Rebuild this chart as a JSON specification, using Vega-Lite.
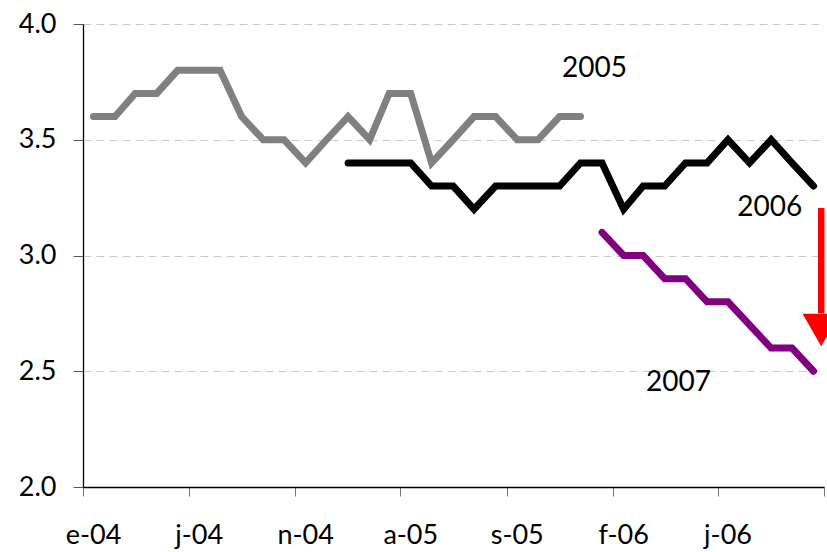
{
  "$schema": "https://vega.github.io/schema/vega-lite/v6.json",
  "width": 741,
  "height": 463,
  "autosize": {"type": "none"},
  "padding": {"left": 83, "top": 24, "right": 3, "bottom": 65},
  "background": "white",
  "config": {
    "view": {"stroke": null},
    "font": "Lato",
    "axis": {"labelFont": "Lato", "labelFontSize": 27, "labelColor": "#000000"}
  },
  "datasets": {
    "series": [
      {"fecha": "2004-01-16", "valor": 3.6, "serie": "2005"},
      {"fecha": "2004-02-16", "valor": 3.6, "serie": "2005"},
      {"fecha": "2004-03-16", "valor": 3.7, "serie": "2005"},
      {"fecha": "2004-04-16", "valor": 3.7, "serie": "2005"},
      {"fecha": "2004-05-16", "valor": 3.8, "serie": "2005"},
      {"fecha": "2004-06-16", "valor": 3.8, "serie": "2005"},
      {"fecha": "2004-07-16", "valor": 3.8, "serie": "2005"},
      {"fecha": "2004-08-16", "valor": 3.6, "serie": "2005"},
      {"fecha": "2004-09-16", "valor": 3.5, "serie": "2005"},
      {"fecha": "2004-10-16", "valor": 3.5, "serie": "2005"},
      {"fecha": "2004-11-16", "valor": 3.4, "serie": "2005"},
      {"fecha": "2004-12-16", "valor": 3.5, "serie": "2005"},
      {"fecha": "2005-01-16", "valor": 3.6, "serie": "2005"},
      {"fecha": "2005-02-16", "valor": 3.5, "serie": "2005"},
      {"fecha": "2005-03-16", "valor": 3.7, "serie": "2005"},
      {"fecha": "2005-04-16", "valor": 3.7, "serie": "2005"},
      {"fecha": "2005-05-16", "valor": 3.4, "serie": "2005"},
      {"fecha": "2005-06-16", "valor": 3.5, "serie": "2005"},
      {"fecha": "2005-07-16", "valor": 3.6, "serie": "2005"},
      {"fecha": "2005-08-16", "valor": 3.6, "serie": "2005"},
      {"fecha": "2005-09-16", "valor": 3.5, "serie": "2005"},
      {"fecha": "2005-10-16", "valor": 3.5, "serie": "2005"},
      {"fecha": "2005-11-16", "valor": 3.6, "serie": "2005"},
      {"fecha": "2005-12-16", "valor": 3.6, "serie": "2005"},
      {"fecha": "2005-01-16", "valor": 3.4, "serie": "2006"},
      {"fecha": "2005-02-16", "valor": 3.4, "serie": "2006"},
      {"fecha": "2005-03-16", "valor": 3.4, "serie": "2006"},
      {"fecha": "2005-04-16", "valor": 3.4, "serie": "2006"},
      {"fecha": "2005-05-16", "valor": 3.3, "serie": "2006"},
      {"fecha": "2005-06-16", "valor": 3.3, "serie": "2006"},
      {"fecha": "2005-07-16", "valor": 3.2, "serie": "2006"},
      {"fecha": "2005-08-16", "valor": 3.3, "serie": "2006"},
      {"fecha": "2005-09-16", "valor": 3.3, "serie": "2006"},
      {"fecha": "2005-10-16", "valor": 3.3, "serie": "2006"},
      {"fecha": "2005-11-16", "valor": 3.3, "serie": "2006"},
      {"fecha": "2005-12-16", "valor": 3.4, "serie": "2006"},
      {"fecha": "2006-01-16", "valor": 3.4, "serie": "2006"},
      {"fecha": "2006-02-16", "valor": 3.2, "serie": "2006"},
      {"fecha": "2006-03-16", "valor": 3.3, "serie": "2006"},
      {"fecha": "2006-04-16", "valor": 3.3, "serie": "2006"},
      {"fecha": "2006-05-16", "valor": 3.4, "serie": "2006"},
      {"fecha": "2006-06-16", "valor": 3.4, "serie": "2006"},
      {"fecha": "2006-07-16", "valor": 3.5, "serie": "2006"},
      {"fecha": "2006-08-16", "valor": 3.4, "serie": "2006"},
      {"fecha": "2006-09-16", "valor": 3.5, "serie": "2006"},
      {"fecha": "2006-10-16", "valor": 3.4, "serie": "2006"},
      {"fecha": "2006-11-16", "valor": 3.3, "serie": "2006"},
      {"fecha": "2006-01-16", "valor": 3.1, "serie": "2007"},
      {"fecha": "2006-02-16", "valor": 3.0, "serie": "2007"},
      {"fecha": "2006-03-16", "valor": 3.0, "serie": "2007"},
      {"fecha": "2006-04-16", "valor": 2.9, "serie": "2007"},
      {"fecha": "2006-05-16", "valor": 2.9, "serie": "2007"},
      {"fecha": "2006-06-16", "valor": 2.8, "serie": "2007"},
      {"fecha": "2006-07-16", "valor": 2.8, "serie": "2007"},
      {"fecha": "2006-08-16", "valor": 2.7, "serie": "2007"},
      {"fecha": "2006-09-16", "valor": 2.6, "serie": "2007"},
      {"fecha": "2006-10-16", "valor": 2.6, "serie": "2007"},
      {"fecha": "2006-11-16", "valor": 2.5, "serie": "2007"}
    ],
    "etiquetas": [
      {"fecha": "2006-01-05", "valor": 3.771, "texto": "2005"},
      {"fecha": "2006-09-14", "valor": 3.17, "texto": "2006"},
      {"fecha": "2006-05-06", "valor": 2.415, "texto": "2007"}
    ],
    "flecha": [
      {"fecha": "2006-11-27", "desde": 3.205, "hasta": 2.75, "punta": 2.678}
    ]
  },
  "layer": [
    {
      "data": {"name": "series"},
      "mark": {"type": "line", "strokeWidth": 7, "strokeCap": "round", "strokeJoin": "miter"},
      "encoding": {
        "x": {
          "field": "fecha",
          "type": "temporal",
          "scale": {
            "type": "utc",
            "domain": [
              {"year": 2004, "month": 1, "date": 1, "utc": true},
              {"year": 2006, "month": 12, "date": 1, "utc": true}
            ]
          },
          "axis": {
            "title": null,
            "values": [
              {"year": 2004, "month": 1, "date": 1, "utc": true},
              {"year": 2004, "month": 6, "date": 1, "utc": true},
              {"year": 2004, "month": 11, "date": 1, "utc": true},
              {"year": 2005, "month": 4, "date": 1, "utc": true},
              {"year": 2005, "month": 9, "date": 1, "utc": true},
              {"year": 2006, "month": 2, "date": 1, "utc": true},
              {"year": 2006, "month": 7, "date": 1, "utc": true},
              {"year": 2006, "month": 12, "date": 1, "utc": true}
            ],
            "labelExpr": "(utcyear(datum.value) == 2006 && utcmonth(datum.value) == 11) ? '' : ['e','f','m','a','m','j','j','a','s','o','n','d'][utcmonth(datum.value)] + '-' + utcFormat(datum.value, '%y')",
            "labelFlush": false,
            "labelOverlap": false,
            "labelOffset": 10,
            "labelPadding": 26,
            "tickSize": 9,
            "tickColor": "#777777",
            "domainColor": "#000000",
            "domainWidth": 1.3,
            "grid": false
          }
        },
        "y": {
          "field": "valor",
          "type": "quantitative",
          "scale": {"domain": [2, 4], "nice": false, "zero": false},
          "axis": {
            "title": null,
            "values": [2, 2.5, 3, 3.5, 4],
            "format": ".1f",
            "tickSize": 10,
            "tickColor": "#555555",
            "labelPadding": 17,
            "domainColor": "#000000",
            "domainWidth": 1.3,
            "grid": true,
            "gridColor": "#cccccc",
            "gridDash": [8, 5],
            "gridWidth": 1
          }
        },
        "color": {
          "field": "serie",
          "type": "nominal",
          "scale": {"domain": ["2005", "2006", "2007"], "range": ["#808080", "#000000", "#800080"]},
          "legend": null
        }
      }
    },
    {
      "data": {"name": "flecha"},
      "mark": {"type": "rule", "color": "#ff0000", "strokeWidth": 6.5},
      "encoding": {
        "x": {"field": "fecha", "type": "temporal"},
        "y": {"field": "desde", "type": "quantitative"},
        "y2": {"field": "hasta"}
      }
    },
    {
      "data": {"name": "flecha"},
      "mark": {"type": "point", "shape": "triangle-down", "filled": true, "color": "#ff0000", "opacity": 1, "size": 1400, "strokeWidth": 0},
      "encoding": {
        "x": {"field": "fecha", "type": "temporal"},
        "y": {"field": "punta", "type": "quantitative"}
      }
    },
    {
      "data": {"name": "etiquetas"},
      "mark": {"type": "text", "font": "Lato", "fontSize": 28, "color": "#000000", "align": "center", "baseline": "alphabetic"},
      "encoding": {
        "x": {"field": "fecha", "type": "temporal"},
        "y": {"field": "valor", "type": "quantitative"},
        "text": {"field": "texto"}
      }
    }
  ]
}
